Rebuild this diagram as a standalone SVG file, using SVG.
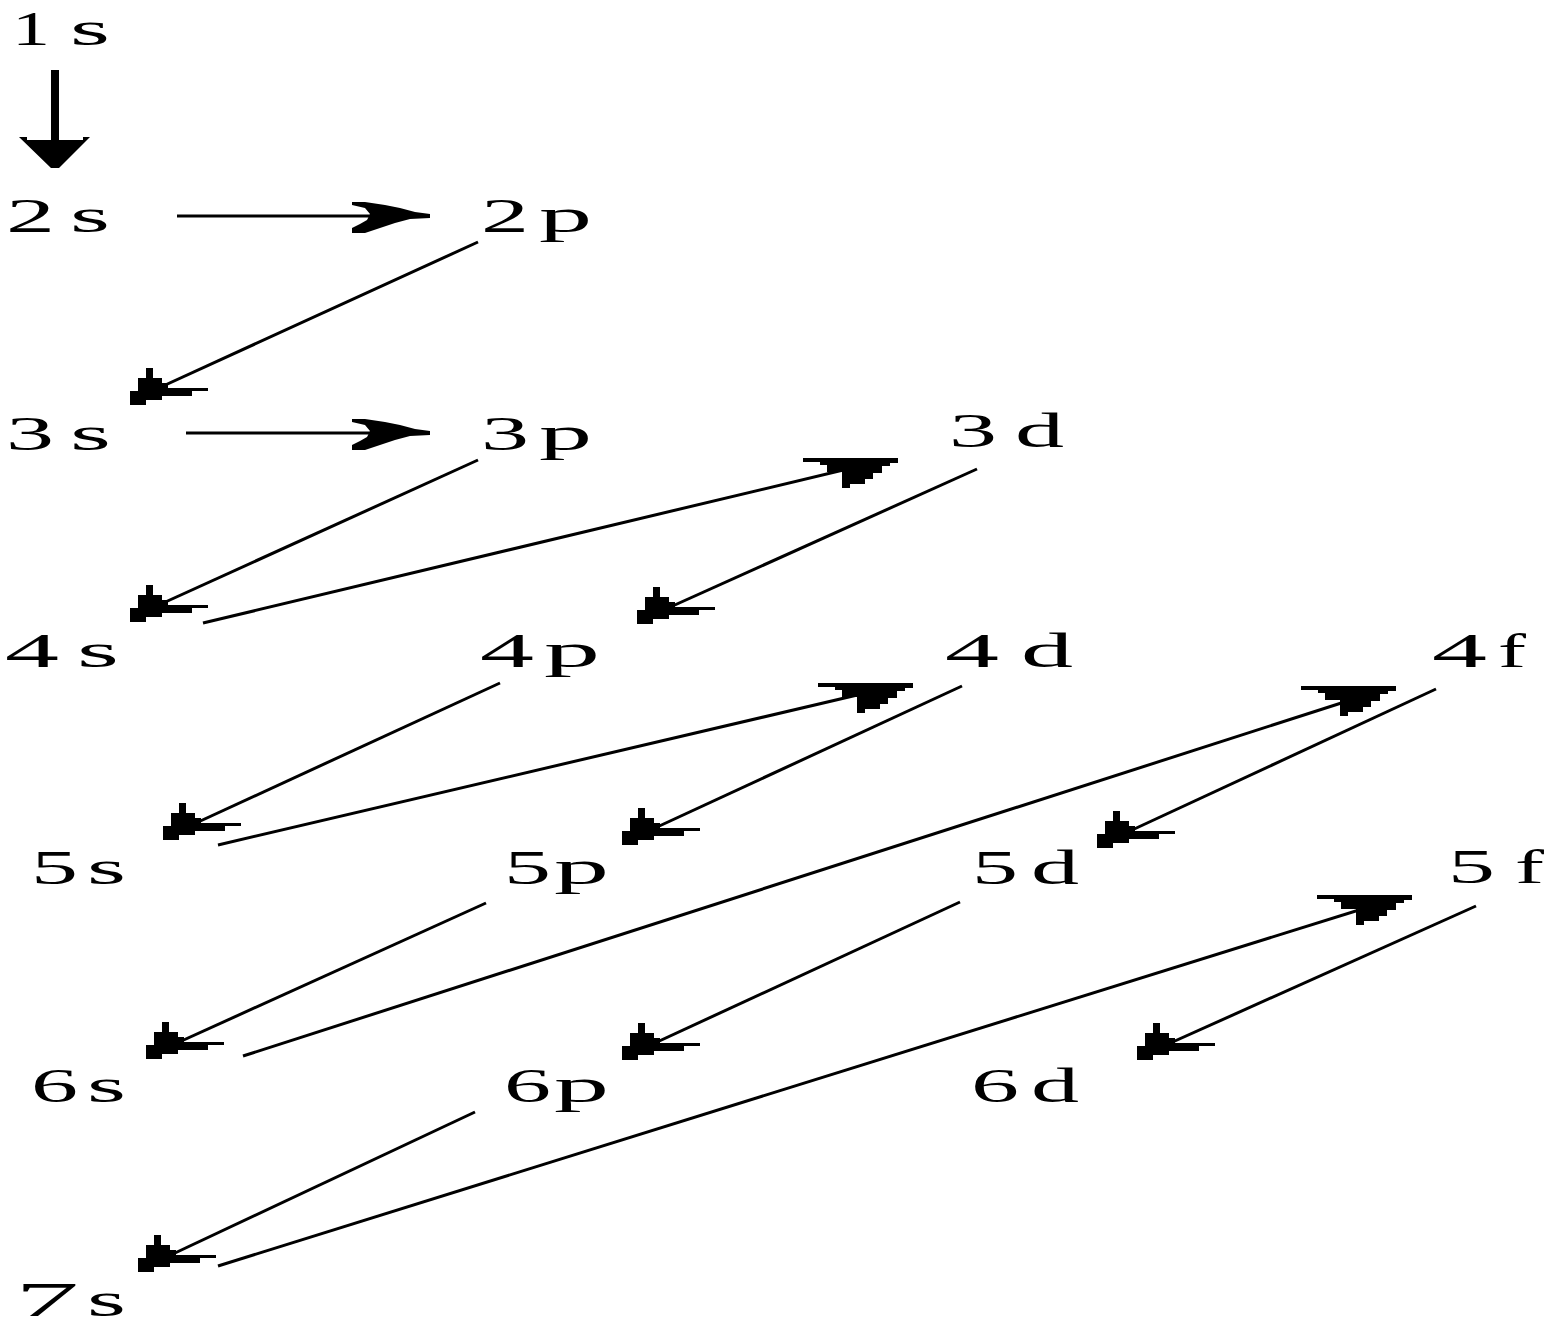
<svg xmlns="http://www.w3.org/2000/svg" xmlns:xlink="http://www.w3.org/1999/xlink" width="1557" height="1326" viewBox="0 0 1557 1326">
<style>
.g{font-family:"Liberation Serif","Times New Roman",serif;font-size:49px;fill:#000;}
.ln{stroke:#000;stroke-width:3;fill:none;}
.hd{fill:#000;stroke:none;}
</style>
<defs>
<polygon id="headDL" class="hd" points="0,0 0,-14 8,-14 8,-27 16,-27 16,-37 23,-37 23,-27 32,-27 32,-22 38,-22 38,-17 78,-17 78,-14 62,-14 62,-9 32,-9 32,-5 16,-5 16,0"/>
<polygon id="headUR" class="hd" points="0,0 0,5 -8,5 -8,8 -16,8 -16,15 -25,15 -25,21 -33,21 -33,26 -48,26 -48,30 -56,30 -56,14 -71,14 -71,7 -78,7 -78,4 -95,4 -95,0"/>
<polygon id="headR" class="hd" points="0,-2 -15,-4 -30,-8 -45,-11 -65,-14 -78,-14 -78,-11 -65,-8 -60,-2 -63,4 -70,8 -78,12 -78,17 -65,17 -50,12 -35,7 -20,3 0,2"/>
<polygon id="headD" class="hd" points="-36,-31 -28,-31 -28,-28 28,-28 28,-31 35,-31 4,0 -4,0"/>
</defs>
<rect width="1557" height="1326" fill="#fff"/>
<g id="connectors">
  <line class="ln" x1="55" y1="70" x2="55" y2="145" style="stroke-width:8"/>
  <use xlink:href="#headD" x="55" y="168"/>
  <line class="ln" x1="177" y1="216" x2="400" y2="216"/>
  <use xlink:href="#headR" x="430" y="216"/>
  <line class="ln" x1="478" y1="242" x2="150" y2="392"/>
  <use xlink:href="#headDL" x="130" y="405"/>
  <line class="ln" x1="186" y1="433" x2="400" y2="433"/>
  <use xlink:href="#headR" x="430" y="433"/>
  <line class="ln" x1="478" y1="460" x2="150" y2="609"/>
  <use xlink:href="#headDL" x="130" y="622"/>
  <line class="ln" x1="203" y1="623" x2="860" y2="466"/>
  <use xlink:href="#headUR" x="898" y="458"/>
  <line class="ln" x1="977" y1="469" x2="657" y2="613"/>
  <use xlink:href="#headDL" x="637" y="624"/>
  <line class="ln" x1="500" y1="683" x2="183" y2="829"/>
  <use xlink:href="#headDL" x="163" y="840"/>
  <line class="ln" x1="218" y1="845" x2="870" y2="692"/>
  <use xlink:href="#headUR" x="913" y="683"/>
  <line class="ln" x1="962" y1="686" x2="642" y2="834"/>
  <use xlink:href="#headDL" x="622" y="845"/>
  <line class="ln" x1="1436" y1="689" x2="1117" y2="837"/>
  <use xlink:href="#headDL" x="1097" y="848"/>
  <line class="ln" x1="243" y1="1056" x2="1360" y2="697"/>
  <use xlink:href="#headUR" x="1396" y="686"/>
  <line class="ln" x1="486" y1="903" x2="166" y2="1048"/>
  <use xlink:href="#headDL" x="146" y="1059"/>
  <line class="ln" x1="960" y1="902" x2="642" y2="1049"/>
  <use xlink:href="#headDL" x="622" y="1060"/>
  <line class="ln" x1="1476" y1="906" x2="1157" y2="1049"/>
  <use xlink:href="#headDL" x="1137" y="1060"/>
  <line class="ln" x1="218" y1="1266" x2="1375" y2="905"/>
  <use xlink:href="#headUR" x="1412" y="895"/>
  <line class="ln" x1="475" y1="1112" x2="158" y2="1261"/>
  <use xlink:href="#headDL" x="138" y="1272"/>
</g>
<g id="n1s"><text class="g" x="12" y="45" textLength="38" lengthAdjust="spacingAndGlyphs">1</text><text class="g" x="70" y="45" textLength="40" lengthAdjust="spacingAndGlyphs">s</text></g>
<g id="n2s"><text class="g" x="6" y="232" textLength="49" lengthAdjust="spacingAndGlyphs">2</text><text class="g" x="70" y="232" textLength="40" lengthAdjust="spacingAndGlyphs">s</text></g>
<g id="n2p"><text class="g" x="481" y="232" textLength="48" lengthAdjust="spacingAndGlyphs">2</text><text class="g" x="539" y="232" textLength="53" lengthAdjust="spacingAndGlyphs">p</text></g>
<g id="n3s"><text class="g" x="6" y="450" textLength="48" lengthAdjust="spacingAndGlyphs">3</text><text class="g" x="70" y="450" textLength="41" lengthAdjust="spacingAndGlyphs">s</text></g>
<g id="n3p"><text class="g" x="481" y="450" textLength="48" lengthAdjust="spacingAndGlyphs">3</text><text class="g" x="539" y="450" textLength="53" lengthAdjust="spacingAndGlyphs">p</text></g>
<g id="n3d"><text class="g" x="949" y="447" textLength="48" lengthAdjust="spacingAndGlyphs">3</text><text class="g" x="1015" y="447" textLength="49" lengthAdjust="spacingAndGlyphs">d</text></g>
<g id="n4s"><text class="g" x="5" y="667" textLength="54" lengthAdjust="spacingAndGlyphs">4</text><text class="g" x="77" y="667" textLength="42" lengthAdjust="spacingAndGlyphs">s</text></g>
<g id="n4p"><text class="g" x="480" y="667" textLength="54" lengthAdjust="spacingAndGlyphs">4</text><text class="g" x="544" y="667" textLength="56" lengthAdjust="spacingAndGlyphs">p</text></g>
<g id="n4d"><text class="g" x="945" y="667" textLength="54" lengthAdjust="spacingAndGlyphs">4</text><text class="g" x="1021" y="667" textLength="52" lengthAdjust="spacingAndGlyphs">d</text></g>
<g id="n4f"><text class="g" x="1432" y="667" textLength="55" lengthAdjust="spacingAndGlyphs">4</text><text class="g" x="1498" y="667" textLength="28" lengthAdjust="spacingAndGlyphs">f</text></g>
<g id="n5s"><text class="g" x="31" y="884" textLength="47" lengthAdjust="spacingAndGlyphs">5</text><text class="g" x="87" y="884" textLength="39" lengthAdjust="spacingAndGlyphs">s</text></g>
<g id="n5p"><text class="g" x="504" y="884" textLength="47" lengthAdjust="spacingAndGlyphs">5</text><text class="g" x="554" y="884" textLength="55" lengthAdjust="spacingAndGlyphs">p</text></g>
<g id="n5d"><text class="g" x="972" y="884" textLength="46" lengthAdjust="spacingAndGlyphs">5</text><text class="g" x="1031" y="884" textLength="48" lengthAdjust="spacingAndGlyphs">d</text></g>
<g id="n5f"><text class="g" x="1448" y="883" textLength="47" lengthAdjust="spacingAndGlyphs">5</text><text class="g" x="1515" y="883" textLength="29" lengthAdjust="spacingAndGlyphs">f</text></g>
<g id="n6s"><text class="g" x="31" y="1102" textLength="47" lengthAdjust="spacingAndGlyphs">6</text><text class="g" x="87" y="1102" textLength="39" lengthAdjust="spacingAndGlyphs">s</text></g>
<g id="n6p"><text class="g" x="504" y="1102" textLength="47" lengthAdjust="spacingAndGlyphs">6</text><text class="g" x="554" y="1102" textLength="55" lengthAdjust="spacingAndGlyphs">p</text></g>
<g id="n6d"><text class="g" x="971" y="1102" textLength="48" lengthAdjust="spacingAndGlyphs">6</text><text class="g" x="1031" y="1102" textLength="48" lengthAdjust="spacingAndGlyphs">d</text></g>
<g id="n7s"><text class="g" x="15" y="1316" textLength="64" lengthAdjust="spacingAndGlyphs">7</text><text class="g" x="87" y="1316" textLength="39" lengthAdjust="spacingAndGlyphs">s</text></g>
</svg>
